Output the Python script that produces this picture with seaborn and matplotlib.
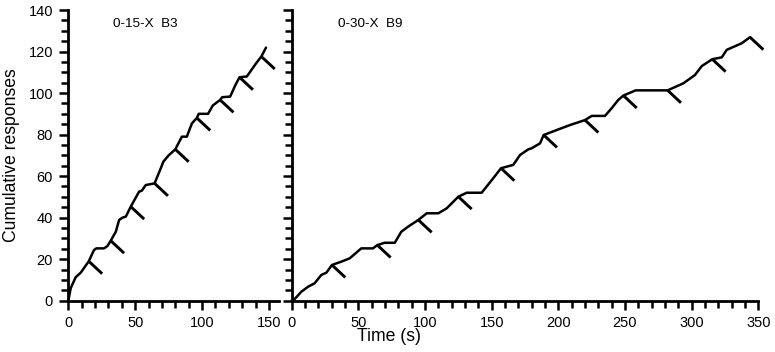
import matplotlib
matplotlib.use("Agg")
import matplotlib.pyplot as plt
from matplotlib.ticker import MultipleLocator
import seaborn as sns
import pandas as pd

# ---- data ----
left_time = [0, 1.8, 5.5, 9.3, 15.3, 19.2, 21, 26.7, 29.2, 31.7, 35.5, 38, 40.5, 43,
             46.7, 52.9, 55, 57.9, 64.5, 69.2, 71.1, 75, 80, 84.9, 88.6, 92.4, 96.1,
             97.5, 104.5, 108, 113.5, 115, 121, 125, 128, 133.5, 140, 144.3, 147.8]
left_count = [0, 6, 11.3, 13.5, 19, 24.4, 25.2, 25.2, 26.3, 28.9, 33.2, 38.9, 40, 40.5,
              45.3, 52.5, 53, 55.7, 56.5, 63.9, 67, 70, 72.9, 79, 79, 85.4, 88,
              90, 90, 94, 96.7, 98, 98.3, 104, 107.6, 108, 114, 117.6, 121.9]
left_rft_time = [15.3, 31.7, 46.7, 64.5, 80, 96.1, 113.5, 128, 144.3]
left_rft_count = [19, 28.9, 45.3, 56.5, 72.9, 88, 96.7, 107.6, 117.6]

right_time = [0, 2.2, 7.2, 12.2, 17.2, 22.2, 26, 30.2, 37.2, 43.5, 52.2, 61, 64.2, 69.8,
              77.3, 82.2, 87.2, 95, 101.3, 110, 116.3, 125, 131.3, 142.5, 151.2, 157,
              166.2, 171.3, 177.5, 180, 186.3, 189, 198.8, 208.8, 220, 225, 235, 240,
              245, 248.8, 258, 282, 293.8, 302.5, 307.6, 315.5, 322.6, 326.3, 337.6, 343.8]
right_count = [0, 0.8, 4.3, 6.7, 8.4, 12.4, 13.5, 17.2, 18.8, 20.4, 25.2, 25.2, 26.8, 27.9,
               27.9, 33.2, 35.6, 38.9, 42.1, 42.1, 44.5, 50.1, 52, 52, 59, 63.8,
               65.4, 70.2, 72.9, 73.4, 75.8, 79.8, 82.2, 84.6, 87, 89, 89, 92.7,
               96.7, 98.8, 101.3, 101.3, 104.7, 108.7, 113, 116.3, 117.2, 120.8, 124, 126.9]
right_rft_time = [30.2, 64.2, 95, 125, 157, 189, 220, 248.8, 282, 315.5, 343.8]
right_rft_count = [17.2, 26.8, 38.9, 50.1, 63.8, 79.8, 87, 98.8, 101.3, 116.3, 126.9]

panel_labels = ["0-15-X  B3", "0-30-X  B9"]
left_xticks = [0, 50, 100, 150]
right_xticks = [0, 50, 100, 150, 200, 250, 300, 350]
yticks = [0, 20, 40, 60, 80, 100, 120, 140]

# ---- style ----
sns.set_theme(style="ticks")
plt.rcParams["font.family"] = ["Liberation Sans", "DejaVu Sans"]

W, H = 775, 352
fig = plt.figure(figsize=(W / 100, H / 100), dpi=100)
ax1 = fig.add_axes([68.3 / W, 1 - 300.7 / H, 210.7 / W, 290.7 / H])
ax2 = fig.add_axes([291.7 / W, 1 - 300.7 / H, 466.6 / W, 290.7 / H])

MARK_DX, MARK_DY = 10.0, -6.0

panels = [
    (ax1, left_time, left_count, left_rft_time, left_rft_count, left_xticks, 157.5, 0.2136),
    (ax2, right_time, right_count, right_rft_time, right_rft_count, right_xticks, 350, 0.0999),
]

for i, (ax, t, c, rt, rc, xt, xmax, tx) in enumerate(panels):
    df = pd.DataFrame({"t": t, "c": c})
    sns.lineplot(data=df, x="t", y="c", ax=ax, color="black", linewidth=1.8,
                 estimator=None, sort=False, clip_on=False)
    for a, b in zip(rt, rc):
        ax.plot([a, a + MARK_DX], [b, b + MARK_DY], color="black", linewidth=2.1,
                solid_capstyle="butt", clip_on=False)
    ax.set_xlim(0, xmax)
    ax.set_ylim(0, 140)
    ax.set_xticks(xt)
    ax.set_yticks(yticks)
    ax.xaxis.set_minor_locator(MultipleLocator(10))
    ax.yaxis.set_minor_locator(MultipleLocator(5))
    ax.tick_params(which="major", direction="out", length=6.5, width=1.8,
                   color="black", labelsize=10.5, pad=4.5, labelcolor="black")
    ax.tick_params(which="minor", direction="out", length=5, width=1.8, color="black")
    for s in ["top", "right"]:
        ax.spines[s].set_visible(False)
    for s in ["left", "bottom"]:
        ax.spines[s].set_linewidth(2.0)
        ax.spines[s].set_color("black")
    ax.set_xlabel("")
    ax.set_ylabel("")
    ax.text(tx, 0.952, panel_labels[i], transform=ax.transAxes, ha="left",
            va="center", fontsize=9.7, color="black")

ax2.tick_params(axis="y", which="both", labelleft=False)

fig.text(11.5 / W, 1 - 155 / H, "Cumulative responses", rotation=90, ha="center",
         va="center", fontsize=12.7, color="black")
fig.text(389 / W, 1 - 336.7 / H, "Time (s)", ha="center", va="center",
         fontsize=12.7, color="black")

fig.savefig("out.png", dpi=100, facecolor="white")
